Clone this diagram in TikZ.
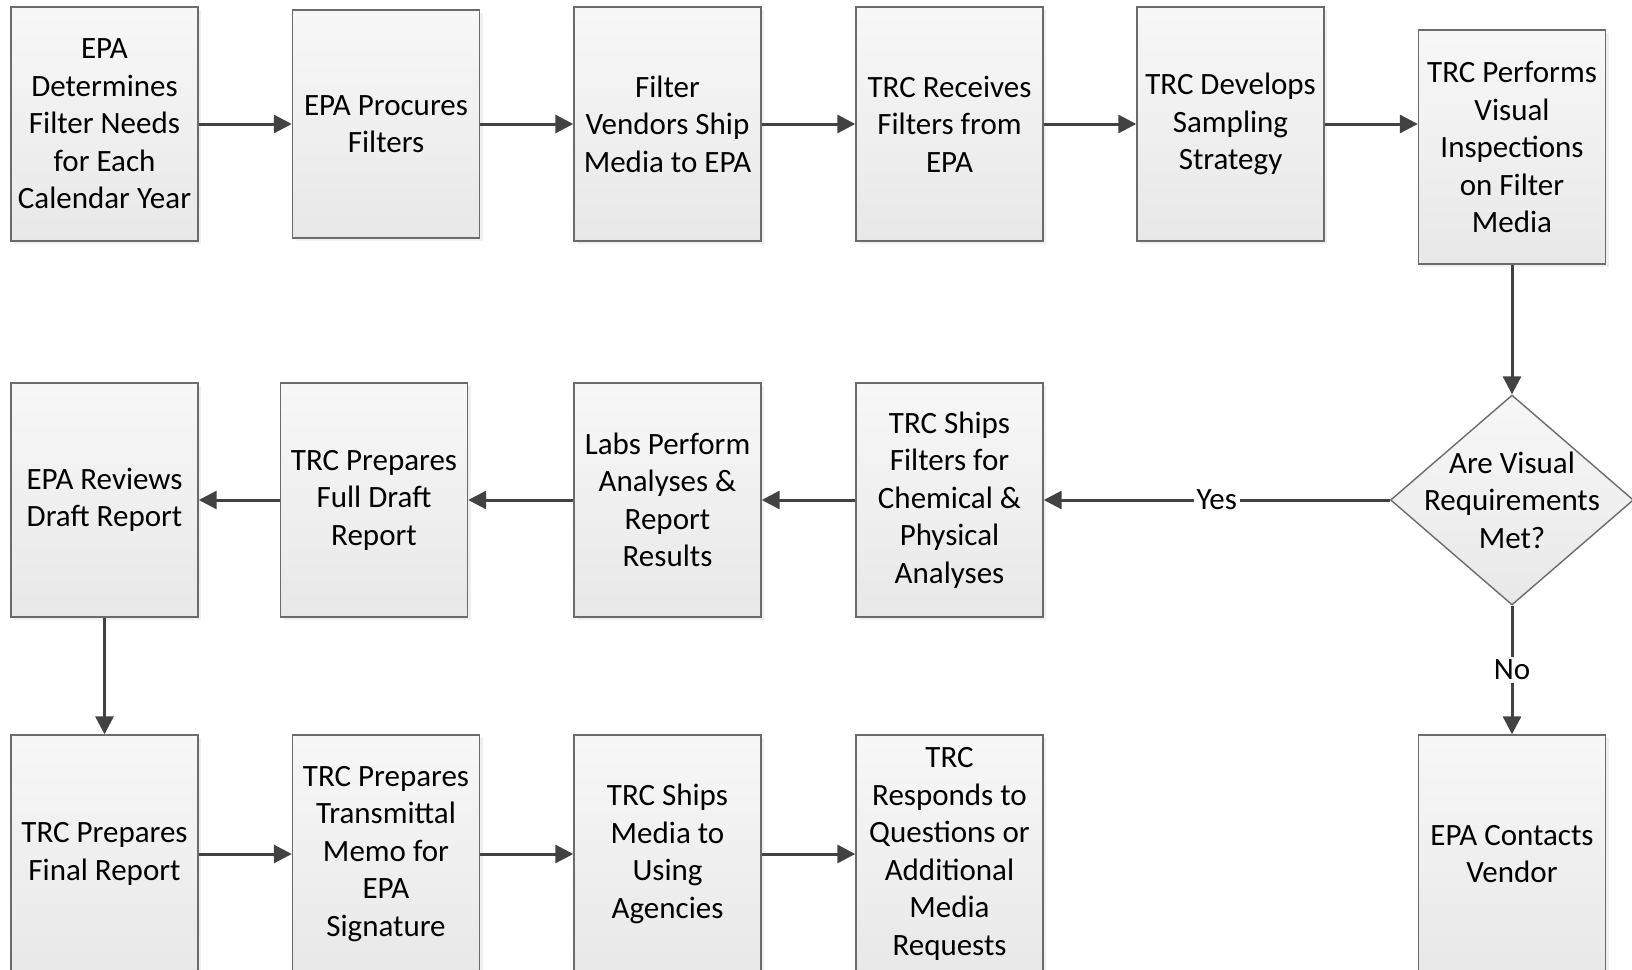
\documentclass[tikz,border=0pt]{standalone}
\usepackage{fontspec}
\setmainfont{Carlito}
\usetikzlibrary{shapes.geometric,arrows.meta,positioning,shadows}
\definecolor{boxline}{gray}{0.42}
\definecolor{pfeilgrau}{gray}{0.26}

\begin{document}
\begin{tikzpicture}[x=0.5pt,y=-0.5pt]

\def\ya{124}
\def\yb{500}
\def\yc{854}

\tikzset{
  schritt/.style={rectangle, draw=boxline, line width=0.7pt,
    top color=white!97!black, bottom color=white!91!black,
    minimum width=93.5pt, minimum height=117pt, inner sep=0pt,
    align=center, font=\fontsize{15.5}{18.75}\selectfont,
    drop shadow={opacity=0.12, shadow xshift=1.5pt, shadow yshift=-1.5pt}},
  frage/.style={diamond, draw=boxline, line width=0.7pt,
    top color=white!97!black, bottom color=white!91!black,
    minimum width=121.5pt, minimum height=105pt, inner sep=0pt},
  fragetext/.style={align=center, font=\fontsize{15.5}{18.75}\selectfont},
  pfeil/.style={-{Triangle[length=9pt,width=9pt]}, draw=pfeilgrau, line width=1.5pt},
  marke/.style={fill=white, inner sep=1.5pt, text=black, font=\fontsize{15.5}{18.75}\selectfont}
}

\useasboundingbox (0,0) rectangle (1632,969);

% erste Reihe
\node[schritt] (s1) at (104.5,\ya) {EPA\\Determines\\Filter Needs\\for Each\\Calendar Year};
\node[schritt, minimum height=114pt] (s2) at (386,\ya) {EPA Procures\\Filters};
\node[schritt] (s3) at (667.5,\ya) {Filter\\Vendors Ship\\Media to EPA};
\node[schritt] (s4) at (949.5,\ya) {TRC Receives\\Filters from\\EPA};
\node[schritt] (s5) at (1230.5,\ya) {TRC Develops\\Sampling\\Strategy};
\node[schritt] (s6) at (1512,147) {TRC Performs\\Visual\\Inspections\\on Filter\\Media};

% zweite Reihe
\node[frage, label={[fragetext]center:Are Visual\\Requirements\\Met?}] (q1) at (1512,\yb) {};
\node[schritt] (s7) at (949.5,\yb) {TRC Ships\\Filters for\\Chemical \&\\Physical\\Analyses};
\node[schritt] (s8) at (667.5,\yb) {Labs Perform\\Analyses \&\\Report\\Results};
\node[schritt] (s9) at (374,\yb) {TRC Prepares\\Full Draft\\Report};
\node[schritt] (s10) at (104.5,\yb) {EPA Reviews\\Draft Report};

% dritte Reihe
\node[schritt, minimum height=119pt] (s11) at (104.5,\yc) {TRC Prepares\\Final Report};
\node[schritt, minimum height=119pt] (s12) at (386,\yc) {TRC Prepares\\Transmittal\\Memo for\\EPA\\Signature};
\node[schritt, minimum height=119pt] (s13) at (667.5,\yc) {TRC Ships\\Media to\\Using\\Agencies};
\node[schritt, minimum height=119pt] (s14) at (949.5,\yc) {TRC\\Responds to\\Questions or\\Additional\\Media\\Requests};
\node[schritt, minimum height=119pt] (s15) at (1512,\yc) {EPA Contacts\\Vendor};

% Pfeile
\draw[pfeil] (s1) -- (s2);
\draw[pfeil] (s2) -- (s3);
\draw[pfeil] (s3) -- (s4);
\draw[pfeil] (s4) -- (s5);
\draw[pfeil] (s5.east) -- (s5.east -| s6.west);
\draw[pfeil] (s6) -- (q1);
\draw[pfeil] (q1) -- node[marke] {Yes} (s7);
\draw[pfeil] (q1) -- node[marke] {No} (s15);
\draw[pfeil] (s7) -- (s8);
\draw[pfeil] (s8) -- (s9);
\draw[pfeil] (s9) -- (s10);
\draw[pfeil] (s10) -- (s11);
\draw[pfeil] (s11) -- (s12);
\draw[pfeil] (s12) -- (s13);
\draw[pfeil] (s13) -- (s14);

\end{tikzpicture}
\end{document}
